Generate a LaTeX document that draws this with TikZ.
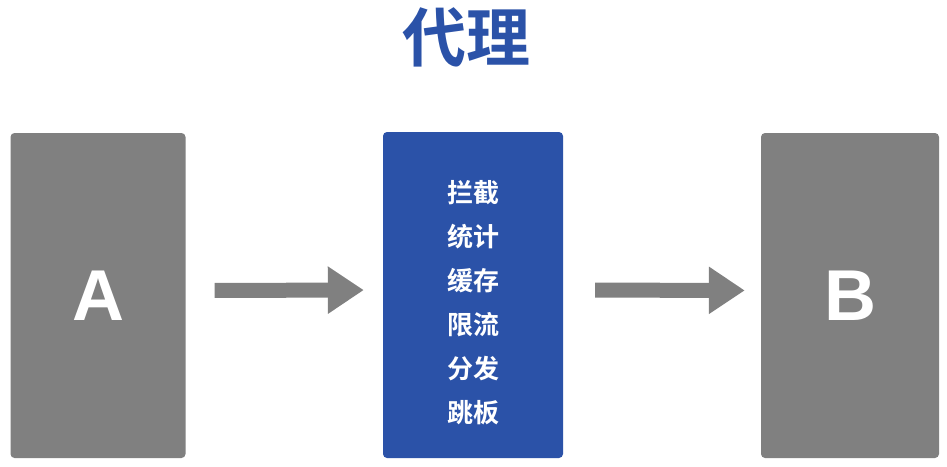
\documentclass[tikz,border=0pt]{standalone}
\usepackage{fontspec}
\setmainfont{Liberation Sans}
\newfontfamily\cjk{Noto Sans CJK SC}[BoldFont={Noto Sans CJK SC Bold}]
\usepackage{tikz}
\usetikzlibrary{arrows.meta,positioning}
\definecolor{proxyblue}{HTML}{2B52A8}
\definecolor{boxgray}{HTML}{808080}

\begin{document}
\begin{tikzpicture}[x=1pt, y=-1pt, every node/.style={text=white},
  hostbox/.style={fill=boxgray, rounded corners=4pt, minimum width=175pt, minimum height=325pt, inner sep=0pt, font=\bfseries\fontsize{72}{72}\selectfont},
  proxybox/.style={fill=proxyblue, rounded corners=4pt, minimum width=180pt, minimum height=326pt, inner sep=0pt},
  bigarrow/.style={boxgray, line width=15pt, -{Triangle[length=36pt,width=45pt]}}]
\useasboundingbox (0,0) rectangle (947,466);

\node [text=proxyblue, font=\cjk\bfseries\fontsize{64}{64}\selectfont, anchor=base] (title) at (466,61) {代理};

\node [hostbox] (a) at (98,295.5) {A};
\node [proxybox] (proxy) at (473,295) {};
\node [hostbox, minimum width=178pt] (b) at (850,295.5) {B};

\node [font=\cjk\bfseries\fontsize{26}{44}\selectfont, align=center] (jobs) at (473,302.5) {拦截\\统计\\缓存\\限流\\分发\\跳板};

\draw [bigarrow, shorten <=29pt, shorten >=19pt] ([yshift=5pt]a.east) -- ([yshift=5pt]proxy.west);
\draw [bigarrow, shorten <=32pt, shorten >=16pt] ([yshift=5pt]proxy.east) -- ([yshift=5pt]b.west);

\end{tikzpicture}
\end{document}
